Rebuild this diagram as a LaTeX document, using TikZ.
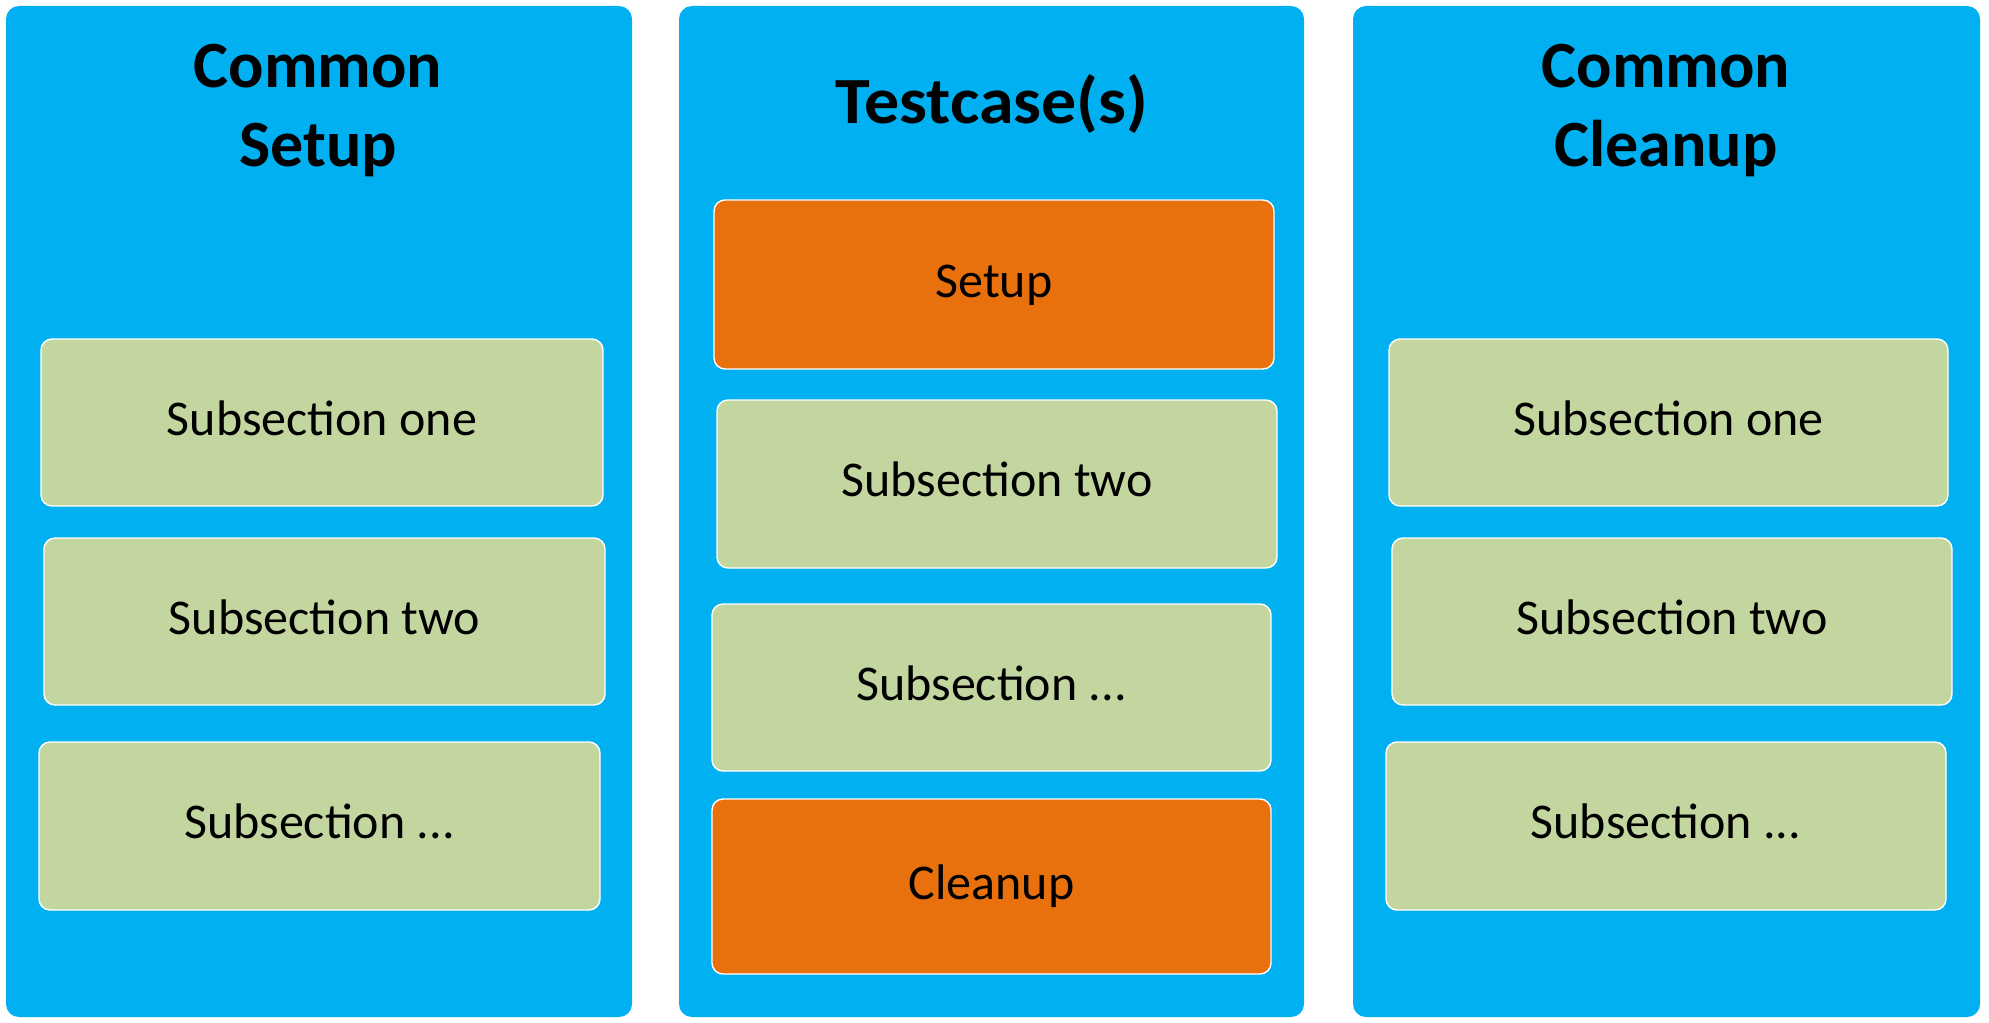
\documentclass[tikz,border=0pt]{standalone}
\usepackage{fontspec}
\setmainfont{Carlito}
\definecolor{panelblue}{HTML}{00B0F0}
\definecolor{subgreen}{HTML}{C4D69F}
\definecolor{setorange}{HTML}{E8700D}
\tikzset{
  panel/.style={fill=panelblue, draw=none, rounded corners=6.5pt, inner sep=0pt},
  subbox/.style={fill=subgreen, draw=white, line width=0.7pt, rounded corners=5.5pt, inner sep=0pt,
     font=\fontsize{25pt}{30pt}\selectfont, text height=16.1pt, text depth=3.5pt},
  orbox/.style={subbox, fill=setorange},
  title/.style={font=\fontsize{33pt}{39.5pt}\selectfont\bfseries, align=center, inner sep=0pt}
}
% style, name, x1, y1, x2, y2 (reference pixels), text
\newcommand\mybox[7]{%
  \node[#1, minimum width={(#5-#3)*0.5pt}, minimum height={(#6-#4)*0.5pt}] (#2)
    at ({(#3+#5)*0.25pt},{-(#4+#6)*0.25pt}) {#7};}
\begin{document}
\begin{tikzpicture}
\useasboundingbox (0,0) rectangle (994.5pt,-511pt);
% panels
\mybox{panel}{pL}{6}{6}{632}{1017}{}
\mybox{panel}{pM}{679}{6}{1304}{1017}{}
\mybox{panel}{pR}{1353}{6}{1980}{1017}{}
% titles
\node[title, anchor=base] (tL) at (159pt,-83pt) {Common\\Setup};
\node[title, anchor=base, xscale=1.06] (tM) at (992pt/2,-62pt) {Testcase(s)};
\node[title, anchor=base] (tR) at (1666pt/2,-83pt) {Common\\Cleanup};
% left column
\mybox{subbox}{l1}{41}{339}{603}{506}{Subsection one}
\mybox{subbox}{l2}{44}{538}{605}{705}{Subsection two}
\mybox{subbox}{l3}{39}{742}{600}{910}{Subsection ...}
% middle column
\mybox{orbox}{m1}{714}{200}{1274}{369}{Setup}
\mybox{subbox}{m2}{717}{400}{1277}{568}{Subsection two}
\mybox{subbox}{m3}{712}{604}{1271}{771}{Subsection ...}
\mybox{orbox}{m4}{712}{799}{1271}{974}{Cleanup}
% right column
\mybox{subbox}{r1}{1389}{339}{1948}{506}{Subsection one}
\mybox{subbox}{r2}{1392}{538}{1952}{705}{Subsection two}
\mybox{subbox}{r3}{1386}{742}{1946}{910}{Subsection ...}
\end{tikzpicture}
\end{document}
